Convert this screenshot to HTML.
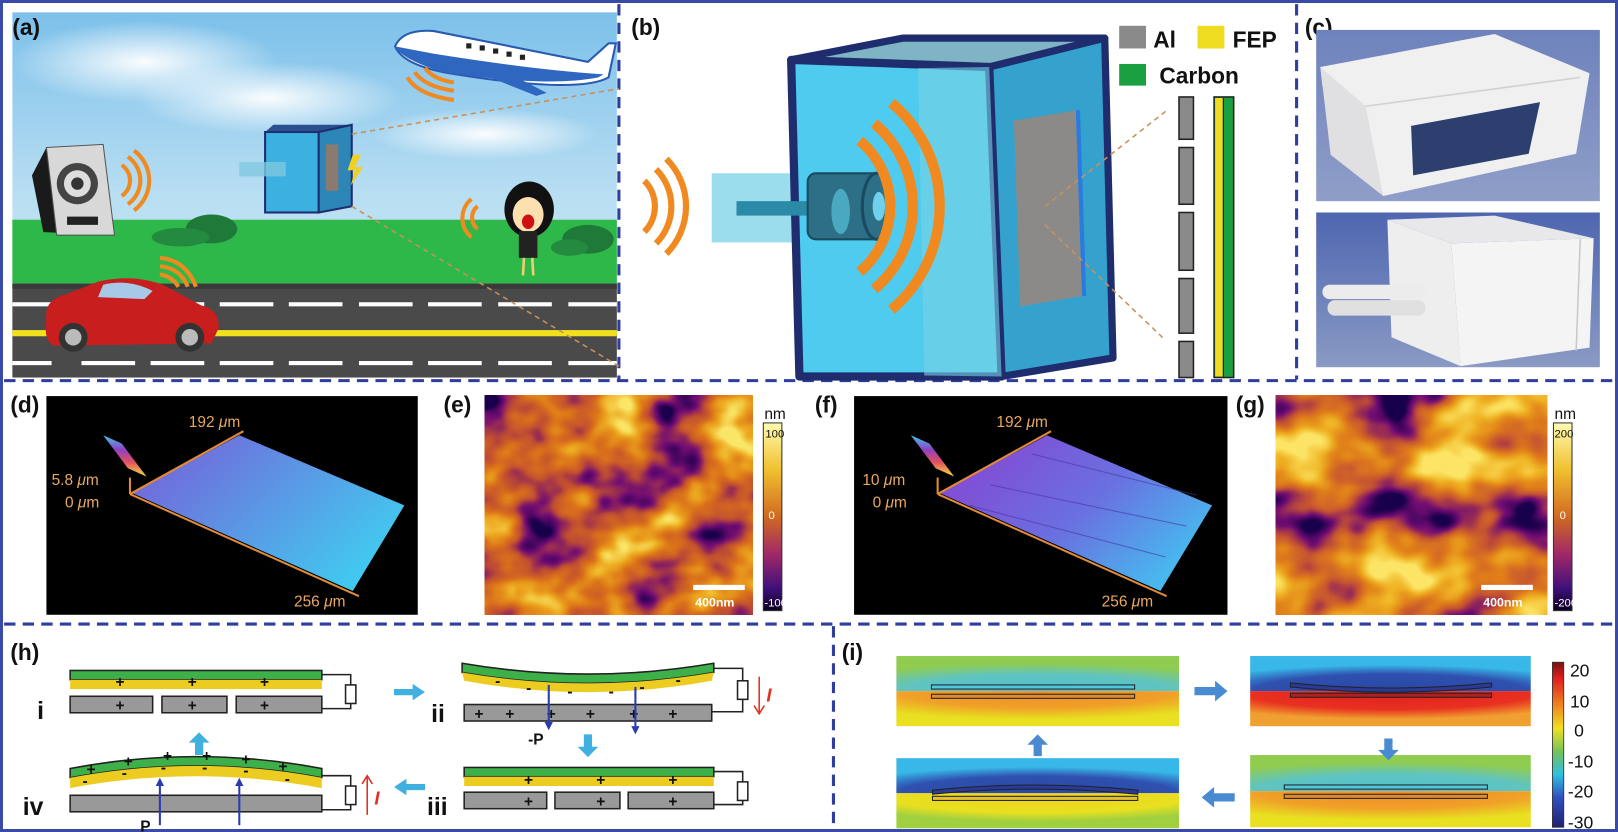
<!DOCTYPE html>
<html><head><meta charset="utf-8"><style>
html,body{margin:0;padding:0;background:#fff}
svg{display:block}
text{font-family:"Liberation Sans",sans-serif}
</style></head><body>
<svg width="1618" height="832" viewBox="0 0 1618 832" xmlns="http://www.w3.org/2000/svg">
<defs>
<linearGradient id="sky" x1="0" y1="0" x2="0" y2="1"><stop offset="0" stop-color="#7cc0ea"/><stop offset="0.5" stop-color="#b8def2"/><stop offset="1" stop-color="#d8eef8"/></linearGradient>
<radialGradient id="cloud" cx="0.5" cy="0.5" r="0.5"><stop offset="0" stop-color="#fff" stop-opacity="0.95"/><stop offset="1" stop-color="#fff" stop-opacity="0"/></radialGradient>
<linearGradient id="photo1" x1="0" y1="0" x2="0" y2="1"><stop offset="0" stop-color="#6e82bc"/><stop offset="1" stop-color="#8f9ec8"/></linearGradient>
<linearGradient id="photo2" x1="0" y1="0" x2="0" y2="1"><stop offset="0" stop-color="#4e66b0"/><stop offset="1" stop-color="#8a9ac4"/></linearGradient>
<linearGradient id="surfD" x1="0" y1="0" x2="1" y2="0.6"><stop offset="0" stop-color="#7a5ad8"/><stop offset="1" stop-color="#42c8ee"/></linearGradient>
<linearGradient id="surfF" x1="0" y1="0" x2="1" y2="0.6"><stop offset="0" stop-color="#8a40d0"/><stop offset="0.6" stop-color="#6a70e0"/><stop offset="1" stop-color="#48b8ee"/></linearGradient>
<linearGradient id="rainbow" x1="0" y1="0" x2="0" y2="1"><stop offset="0" stop-color="#40c8f0"/><stop offset="0.35" stop-color="#9040c0"/><stop offset="0.65" stop-color="#e05060"/><stop offset="1" stop-color="#f0e040"/></linearGradient>
<linearGradient id="afmbar" x1="0" y1="0" x2="0" y2="1"><stop offset="0" stop-color="#fffbb0"/><stop offset="0.25" stop-color="#f0c030"/><stop offset="0.5" stop-color="#d06a20"/><stop offset="0.7" stop-color="#a02868"/><stop offset="0.88" stop-color="#40107a"/><stop offset="1" stop-color="#0a0020"/></linearGradient>
<linearGradient id="jet" x1="0" y1="0" x2="0" y2="1"><stop offset="0" stop-color="#7a1010"/><stop offset="0.1" stop-color="#e02020"/><stop offset="0.27" stop-color="#f08a20"/><stop offset="0.4" stop-color="#f0e020"/><stop offset="0.55" stop-color="#70c060"/><stop offset="0.68" stop-color="#30c0e0"/><stop offset="0.82" stop-color="#3050c0"/><stop offset="1" stop-color="#202070"/></linearGradient>
<filter id="afmE" x="0" y="0" width="1" height="1" color-interpolation-filters="sRGB"><feTurbulence type="fractalNoise" baseFrequency="0.016 0.02" numOctaves="3" seed="7" result="n"/><feColorMatrix in="n" type="matrix" values="1.8 0 0 0 -0.4  1.8 0 0 0 -0.4  1.8 0 0 0 -0.4  0 0 0 0 1"/><feComponentTransfer><feFuncR type="table" tableValues="0.1 0.45 0.75 0.86 0.93 0.98"/><feFuncG type="table" tableValues="0 0.05 0.3 0.45 0.66 0.9"/><feFuncB type="table" tableValues="0.3 0.45 0.2 0.1 0.12 0.4"/></feComponentTransfer></filter>
<filter id="afmG" x="0" y="0" width="1" height="1" color-interpolation-filters="sRGB"><feTurbulence type="fractalNoise" baseFrequency="0.013 0.017" numOctaves="3" seed="11" result="n"/><feColorMatrix in="n" type="matrix" values="1.8 0 0 0 -0.35  1.8 0 0 0 -0.35  1.8 0 0 0 -0.35  0 0 0 0 1"/><feComponentTransfer><feFuncR type="table" tableValues="0.1 0.45 0.77 0.88 0.94 0.99"/><feFuncG type="table" tableValues="0 0.05 0.32 0.5 0.7 0.9"/><feFuncB type="table" tableValues="0.3 0.45 0.2 0.1 0.14 0.4"/></feComponentTransfer></filter>
<radialGradient id="topCy" cx="0.5" cy="1" r="0.8"><stop offset="0" stop-color="#50c0d0"/><stop offset="0.6" stop-color="#60c4c0"/><stop offset="1" stop-color="#90cc50"/></radialGradient>
<radialGradient id="botOr" cx="0.5" cy="0" r="0.8"><stop offset="0" stop-color="#f08a28"/><stop offset="0.6" stop-color="#f0a028"/><stop offset="1" stop-color="#e8e020"/></radialGradient>
<radialGradient id="topBl" cx="0.5" cy="1" r="0.75"><stop offset="0" stop-color="#2848a8"/><stop offset="0.65" stop-color="#3050b0"/><stop offset="1" stop-color="#38b8e8"/></radialGradient>
<radialGradient id="botRd" cx="0.5" cy="0" r="0.8"><stop offset="0" stop-color="#e02020"/><stop offset="0.65" stop-color="#e83020"/><stop offset="1" stop-color="#f0a030"/></radialGradient>
<radialGradient id="botYe" cx="0.5" cy="0" r="0.8"><stop offset="0" stop-color="#f0d020"/><stop offset="0.7" stop-color="#e8e020"/><stop offset="1" stop-color="#a0d040"/></radialGradient>
</defs>

<rect x="1.5" y="1.5" width="1615" height="829" fill="none" stroke="#3a4aa8" stroke-width="3"/>
<g transform="scale(1.0315)">
<g stroke="#2e3d9e" stroke-width="3" stroke-dasharray="11,7" fill="none">
<line x1="600" y1="4" x2="600" y2="368"/>
<line x1="1257" y1="4" x2="1257" y2="368"/>
<line x1="4" y1="369" x2="1565" y2="369"/>
<line x1="4" y1="605" x2="1565" y2="605"/>
<line x1="808" y1="607" x2="808" y2="804"/>
</g>

<!-- ===== (a) ===== -->
<rect x="12" y="12" width="586" height="354" fill="url(#sky)"/>
<ellipse cx="140" cy="60" rx="130" ry="40" fill="url(#cloud)"/>
<ellipse cx="260" cy="95" rx="130" ry="35" fill="url(#cloud)"/>
<ellipse cx="470" cy="130" rx="110" ry="25" fill="url(#cloud)"/>
<rect x="12" y="213" width="586" height="62" fill="#2fb84a"/>
<rect x="12" y="275" width="586" height="91" fill="#4a4a4a"/>
<rect x="12" y="275" width="586" height="5" fill="#3a3a3a"/>
<rect x="12" y="320" width="586" height="6" fill="#f0e020"/>
<g fill="#fff">
<rect x="12" y="293" width="38" height="4"/><rect x="79" y="293" width="52" height="4"/><rect x="146" y="293" width="52" height="4"/><rect x="213" y="293" width="52" height="4"/><rect x="280" y="293" width="52" height="4"/><rect x="348" y="293" width="52" height="4"/><rect x="415" y="293" width="52" height="4"/><rect x="483" y="293" width="52" height="4"/><rect x="551" y="293" width="47" height="4"/>
<rect x="12" y="350" width="38" height="4"/><rect x="79" y="350" width="52" height="4"/><rect x="146" y="350" width="52" height="4"/><rect x="213" y="350" width="52" height="4"/><rect x="280" y="350" width="52" height="4"/><rect x="348" y="350" width="52" height="4"/><rect x="415" y="350" width="52" height="4"/><rect x="483" y="350" width="52" height="4"/><rect x="551" y="350" width="47" height="4"/>
</g>
<ellipse cx="205" cy="222" rx="25" ry="14" fill="#1f7a3a"/><ellipse cx="175" cy="230" rx="28" ry="9" fill="#238a40"/>
<ellipse cx="570" cy="232" rx="25" ry="14" fill="#1f7a3a"/><ellipse cx="552" cy="240" rx="18" ry="8" fill="#238a40"/>
<polygon points="31,170 45,143 100,140 111,228 42,225" fill="#1a1a1a"/>
<polygon points="45,143 100,140 111,228 55,228" fill="#d8d8d8" stroke="#555" stroke-width="1"/>
<circle cx="75" cy="178" r="20" fill="#444"/><circle cx="75" cy="178" r="13" fill="#ddd"/><circle cx="75" cy="178" r="6" fill="#333"/>
<rect x="65" y="210" width="30" height="8" fill="#222"/>
<g fill="none" stroke="#f08a20" stroke-width="4"><path d="M118,160 A18,18 0 0 1 118,190"/><path d="M124,152 A28,28 0 0 1 124,198"/><path d="M130,146 A36,36 0 0 1 130,204"/></g>
<path d="M383,45 Q390,28 420,30 L570,60 L590,42 L597,42 L590,75 Q560,92 430,70 Q390,62 383,45Z" fill="#fff" stroke="#2a5ab0" stroke-width="2"/>
<path d="M383,45 Q390,58 430,70 Q530,85 580,75 L585,72 Q520,68 420,52Z" fill="#2e66c0"/>
<path d="M450,65 L520,93 L530,90 L480,64Z" fill="#2e66c0"/>
<g fill="#222"><rect x="452" y="42" width="5" height="5"/><rect x="465" y="44" width="5" height="5"/><rect x="478" y="47" width="5" height="5"/><rect x="491" y="50" width="5" height="5"/><rect x="504" y="53" width="5" height="5"/></g>
<g fill="none" stroke="#f08a20" stroke-width="4"><path d="M395,75 Q405,92 440,97"/><path d="M402,70 Q412,84 440,88"/><path d="M412,66 Q420,77 440,80"/></g>
<polygon points="257,128 265,121 341,121 332,128" fill="#2a5090"/>
<rect x="257" y="128" width="52" height="78" fill="#3cb0e0" stroke="#1f2d6e" stroke-width="2"/>
<polygon points="309,128 341,121 341,200 309,206" fill="#2c86b8" stroke="#1f2d6e" stroke-width="2"/>
<rect x="316" y="140" width="12" height="45" fill="#8a7a70"/>
<rect x="232" y="157" width="45" height="14" fill="#80c8e0" opacity="0.8"/>
<polygon points="342,150 350,150 344,162 352,162 340,180 344,165 337,165" fill="#f0d020"/>
<g stroke="#c8905a" stroke-width="1.5" stroke-dasharray="5,4"><line x1="341" y1="130" x2="600" y2="86"/><line x1="341" y1="200" x2="600" y2="355"/></g>
<g fill="none" stroke="#f08a20" stroke-width="4"><path d="M463,200 A14,14 0 0 0 463,222"/><path d="M457,193 A24,24 0 0 0 457,230"/></g>
<ellipse cx="513" cy="203" rx="24" ry="27" fill="#111"/>
<ellipse cx="512" cy="208" rx="15" ry="17" fill="#fde0b0"/>
<ellipse cx="512" cy="215" rx="6" ry="7" fill="#d01010"/>
<rect x="503" y="224" width="18" height="26" fill="#222"/>
<line x1="508" y1="250" x2="507" y2="267" stroke="#f0d070" stroke-width="2.5"/><line x1="516" y1="250" x2="517" y2="267" stroke="#f0d070" stroke-width="2.5"/>
<g fill="none" stroke="#f08a20" stroke-width="4"><path d="M155,250 Q180,252 190,278"/><path d="M155,258 Q175,260 182,278"/><path d="M155,266 Q167,268 173,278"/></g>
<path d="M45,310 Q42,290 65,285 L95,273 Q130,265 160,277 L195,296 Q213,300 212,318 L205,333 L52,335 Q42,330 45,310Z" fill="#c81e1e"/>
<path d="M100,276 Q125,270 148,282 L140,290 L95,288Z" fill="#a8c8e8"/>
<circle cx="71" cy="327" r="14" fill="#333"/><circle cx="71" cy="327" r="8" fill="#bbb"/>
<circle cx="184" cy="327" r="14" fill="#333"/><circle cx="184" cy="327" r="8" fill="#bbb"/>
<text x="12" y="34" font-size="22" font-weight="bold" fill="#111">(a)</text>

<!-- ===== (b) ===== -->
<text x="612" y="34" font-size="22" font-weight="bold" fill="#111">(b)</text>
<polygon points="767,58 875,37 1071,37 959,65" fill="#7fb4c4" stroke="#1f2d6e" stroke-width="7" stroke-linejoin="round"/>
<polygon points="959,65 1071,37 1079,347 971,365" fill="#34a2cc" stroke="#1f2d6e" stroke-width="7" stroke-linejoin="round"/>
<rect x="690" y="168" width="95" height="67" fill="#8ad6ea" opacity="0.85"/>
<polygon points="767,58 959,65 971,365 775,365" fill="#4ecbee" stroke="#1f2d6e" stroke-width="8" stroke-linejoin="round"/>
<polygon points="890,66 959,65 971,365 896,364" fill="#7ad2e6" opacity="0.6"/>
<rect x="714" y="195" width="70" height="14" fill="#2a8aa8"/>
<rect x="783" y="168" width="75" height="64" rx="8" fill="#2d6f86" stroke="#1a4a60" stroke-width="2"/>
<ellipse cx="850" cy="200" rx="14" ry="32" fill="#2d6f86" stroke="#1a4a60" stroke-width="3"/>
<ellipse cx="852" cy="200" rx="6" ry="14" fill="#6ed0ea"/>
<ellipse cx="815" cy="205" rx="9" ry="22" fill="#4aa8c0"/>
<polygon points="983,117 1043,107 1049,287 989,297" fill="#8c8a88"/>
<polygon points="1043,107 1047,107 1053,287 1049,287" fill="#2a7ae0"/>
<g fill="none" stroke="#f08a20" stroke-width="10"><path d="M833.4,136.4 A83,83 0 0 1 833.4,263.6"/><path d="M847.5,119.6 A105,105 0 0 1 847.5,280.4"/><path d="M864.2,99.7 A131,131 0 0 1 864.2,300.3"/></g>
<g fill="none" stroke="#f08a20" stroke-width="6"><path d="M624.7,175.3 A35,35 0 0 1 624.7,224.7"/><path d="M636,164 A51,51 0 0 1 636,236"/><path d="M646,154 A65,65 0 0 1 646,246"/></g>
<g stroke="#c8905a" stroke-width="1.5" stroke-dasharray="5,4"><line x1="1013" y1="200" x2="1130" y2="108"/><line x1="1013" y1="218" x2="1130" y2="330"/></g>
<rect x="1085" y="25" width="26" height="22" fill="#8a8a8a"/>
<text x="1118" y="46" font-size="22" font-weight="bold" fill="#111">Al</text>
<rect x="1161" y="25" width="26" height="22" fill="#eedc20"/>
<text x="1195" y="46" font-size="22" font-weight="bold" fill="#111">FEP</text>
<rect x="1085" y="62" width="26" height="21" fill="#1aa040"/>
<text x="1124" y="81" font-size="22" font-weight="bold" fill="#111">Carbon</text>
<g fill="#8a8a8a" stroke="#222" stroke-width="1.5">
<rect x="1143" y="94" width="14" height="41"/><rect x="1143" y="143" width="14" height="55"/><rect x="1143" y="206" width="14" height="56"/><rect x="1143" y="270" width="14" height="53"/><rect x="1143" y="331" width="14" height="35"/>
</g>
<rect x="1177" y="94" width="19" height="272" fill="#1aa040" stroke="#222" stroke-width="1.5"/>
<rect x="1178" y="95" width="8" height="270" fill="#eedc20"/>
<line x1="1186" y1="95" x2="1186" y2="365" stroke="#222" stroke-width="1.2"/>

<!-- ===== (c) ===== -->
<text x="1265" y="34" font-size="22" font-weight="bold" fill="#111">(c)</text>
<rect x="1276" y="29" width="275" height="166" fill="url(#photo1)"/>
<polygon points="1280,65 1449,33 1541,71 1528,149 1341,190 1282,83" fill="#f0f0f0"/>
<polygon points="1280,65 1324,103 1341,190 1290,150" fill="#e0e0e2"/>
<polyline points="1324,103 1532,75" fill="none" stroke="#d0d0d4" stroke-width="1.5"/>
<polygon points="1368,122 1493,99 1482,149 1370,170" fill="#2c3f6e"/>
<rect x="1276" y="206" width="275" height="150" fill="url(#photo2)"/>
<polygon points="1345,213 1449,209 1545,231 1407,236" fill="#e8e8ea"/>
<polygon points="1345,213 1407,236 1416,355 1349,327" fill="#eeeeef"/>
<polygon points="1407,236 1545,231 1541,337 1416,355" fill="#f4f4f4"/>
<line x1="1532" y1="232" x2="1528" y2="340" stroke="#c8c8cc" stroke-width="1.5"/>
<rect x="1282" y="276" width="100" height="14" rx="7" fill="#ececec"/>
<rect x="1287" y="291" width="95" height="15" rx="7" fill="#e0e0e0"/>

<!-- ===== (d) ===== -->
<text x="10" y="400" font-size="22" font-weight="bold" fill="#111">(d)</text>
<rect x="45" y="384" width="360" height="212" fill="#000"/>
<polygon points="128,478 232,422 392,490 342,573" fill="url(#surfD)"/>
<polygon points="100,422 118,430 142,462 124,454" fill="url(#rainbow)"/>
<g stroke="#e08a3a" stroke-width="2" fill="none"><line x1="126" y1="479" x2="236" y2="418"/><line x1="126" y1="479" x2="348" y2="578"/><line x1="126" y1="479" x2="126" y2="463"/></g>
<g font-size="15" fill="#e8a860" font-family="Liberation Serif,serif"><text x="183" y="414">192 <tspan font-style="italic">μ</tspan>m</text><text x="50" y="470">5.8 <tspan font-style="italic">μ</tspan>m</text><text x="63" y="492">0 <tspan font-style="italic">μ</tspan>m</text><text x="285" y="588">256 <tspan font-style="italic">μ</tspan>m</text></g>

<!-- ===== (e) ===== -->
<text x="430" y="400" font-size="22" font-weight="bold" fill="#111">(e)</text>
<rect x="470" y="383" width="260" height="213" filter="url(#afmE)"/>
<rect x="672" y="567" width="50" height="5" fill="#fff"/>
<text x="674" y="588" font-size="12" font-weight="bold" fill="#fff">400nm</text>
<text x="741" y="406" font-size="15" fill="#111">nm</text>
<rect x="740" y="410" width="18" height="182" fill="url(#afmbar)" stroke="#333" stroke-width="1"/>
<text x="742" y="424" font-size="11" fill="#111">100</text>
<text x="745" y="503" font-size="11" fill="#fff">0</text>
<text x="741" y="588" font-size="11" fill="#fff">-100</text>

<!-- ===== (f) ===== -->
<text x="790" y="400" font-size="22" font-weight="bold" fill="#111">(f)</text>
<rect x="828" y="384" width="362" height="212" fill="#000"/>
<polygon points="911,478 1015,422 1175,490 1125,573" fill="url(#surfF)"/>
<g stroke="#4a30a0" stroke-width="1" opacity="0.6"><line x1="960" y1="470" x2="1150" y2="510"/><line x1="940" y1="490" x2="1130" y2="540"/><line x1="1000" y1="440" x2="1160" y2="480"/></g>
<polygon points="883,422 901,430 925,462 907,454" fill="url(#rainbow)"/>
<g stroke="#e08a3a" stroke-width="2" fill="none"><line x1="909" y1="479" x2="1019" y2="418"/><line x1="909" y1="479" x2="1131" y2="578"/><line x1="909" y1="479" x2="909" y2="463"/></g>
<g font-size="15" fill="#e8a860" font-family="Liberation Serif,serif"><text x="966" y="414">192 <tspan font-style="italic">μ</tspan>m</text><text x="836" y="470">10 <tspan font-style="italic">μ</tspan>m</text><text x="846" y="492">0 <tspan font-style="italic">μ</tspan>m</text><text x="1068" y="588">256 <tspan font-style="italic">μ</tspan>m</text></g>

<!-- ===== (g) ===== -->
<text x="1198" y="400" font-size="22" font-weight="bold" fill="#111">(g)</text>
<rect x="1237" y="383" width="263" height="213" filter="url(#afmG)"/>
<rect x="1436" y="567" width="50" height="5" fill="#fff"/>
<text x="1438" y="588" font-size="12" font-weight="bold" fill="#fff">400nm</text>
<text x="1507" y="406" font-size="15" fill="#111">nm</text>
<rect x="1506" y="410" width="18" height="182" fill="url(#afmbar)" stroke="#333" stroke-width="1"/>
<text x="1507" y="424" font-size="11" fill="#111">200</text>
<text x="1512" y="503" font-size="11" fill="#fff">0</text>
<text x="1507" y="588" font-size="11" fill="#fff">-200</text>

<!-- ===== (h) ===== -->
<text x="10" y="640" font-size="22" font-weight="bold" fill="#111">(h)</text>
<g stroke="#222" stroke-width="1.5">
<rect x="68" y="650" width="244" height="9" fill="#3db04a"/>
<rect x="68" y="659" width="244" height="9" fill="#eccc20" stroke="none"/>
<rect x="68" y="675" width="80" height="16" fill="#999"/><rect x="157" y="675" width="63" height="16" fill="#999"/><rect x="229" y="675" width="83" height="16" fill="#999"/>
<polyline points="312,654 340,654 340,664" fill="none"/><rect x="335" y="664" width="10" height="18" fill="#fff"/><polyline points="340,682 340,687 312,687" fill="none"/>
<path d="M448,643 Q570,664 692,643 L692,652 Q570,673 448,652Z" fill="#3db04a"/>
<path d="M448,652 Q570,673 692,652 L690,660 Q570,682 450,660Z" fill="#eccc20" stroke="none"/>
<rect x="450" y="683" width="240" height="16" fill="#999"/>
<polyline points="692,648 720,648 720,660" fill="none"/><rect x="715" y="660" width="10" height="18" fill="#fff"/><polyline points="720,678 720,690 690,690" fill="none"/>
<rect x="450" y="744" width="242" height="9" fill="#3db04a"/>
<rect x="450" y="753" width="242" height="9" fill="#eccc20" stroke="none"/>
<rect x="450" y="768" width="80" height="16" fill="#999"/><rect x="538" y="768" width="63" height="16" fill="#999"/><rect x="609" y="768" width="83" height="16" fill="#999"/>
<polyline points="692,748 720,748 720,758" fill="none"/><rect x="715" y="758" width="10" height="18" fill="#fff"/><polyline points="720,776 720,780 692,780" fill="none"/>
<path d="M68,745 Q190,722 312,745 L312,754 Q190,731 68,754Z" fill="#3db04a"/>
<path d="M68,754 Q190,731 312,754 L312,764 Q190,741 68,764Z" fill="#eccc20" stroke="none"/>
<rect x="68" y="771" width="244" height="16" fill="#999"/>
<polyline points="312,752 340,752 340,762" fill="none"/><rect x="335" y="762" width="10" height="18" fill="#fff"/><polyline points="340,780 340,785 312,785" fill="none"/>
</g>
<g font-size="15" font-weight="bold" fill="#111">
<text x="112" y="666">+</text><text x="182" y="666">+</text><text x="252" y="666">+</text>
<text x="112" y="689">+</text><text x="182" y="689">+</text><text x="252" y="689">+</text>
<text x="508" y="761">+</text><text x="578" y="761">+</text><text x="648" y="761">+</text>
<text x="508" y="782">+</text><text x="578" y="782">+</text><text x="648" y="782">+</text>
<text x="460" y="697">+</text><text x="490" y="697">+</text><text x="530" y="697">+</text><text x="568" y="697">+</text><text x="610" y="697">+</text><text x="648" y="697">+</text>
<text x="480" y="665">-</text><text x="510" y="672">-</text><text x="550" y="675">-</text><text x="590" y="675">-</text><text x="620" y="671">-</text><text x="655" y="664">-</text>
<text x="84" y="751">+</text><text x="120" y="743">+</text><text x="158" y="738">+</text><text x="196" y="738">+</text><text x="234" y="741">+</text><text x="270" y="748">+</text>
<text x="80" y="762">-</text><text x="118" y="754">-</text><text x="156" y="749">-</text><text x="196" y="749">-</text><text x="236" y="752">-</text><text x="276" y="760">-</text>
</g>
<g font-size="24" font-weight="bold" fill="#111"><text x="36" y="697">i</text><text x="418" y="700">ii</text><text x="414" y="790">iii</text><text x="22" y="790">iv</text></g>
<g stroke="#2a3ab0" stroke-width="2"><line x1="532" y1="664" x2="532" y2="700"/><line x1="616" y1="666" x2="616" y2="704"/><line x1="155" y1="800" x2="155" y2="762"/><line x1="232" y1="800" x2="232" y2="762"/></g>
<g fill="#2a3ab0"><polygon points="528,700 536,700 532,708"/><polygon points="612,704 620,704 616,712"/><polygon points="151,762 159,762 155,754"/><polygon points="228,762 236,762 232,754"/></g>
<text x="512" y="722" font-size="15" font-weight="bold" fill="#111">-P</text>
<text x="136" y="806" font-size="15" font-weight="bold" fill="#111">P</text>
<g stroke="#e03020" stroke-width="1.5"><line x1="736" y1="656" x2="736" y2="692"/><line x1="356" y1="790" x2="356" y2="752"/></g>
<g fill="none" stroke="#e03020" stroke-width="1.5"><polyline points="731,684 736,692 741,684"/><polyline points="351,760 356,752 361,760"/></g>
<g font-size="18" font-style="italic" font-weight="bold" fill="#e03020" font-family="Liberation Serif,serif"><text x="743" y="680">I</text><text x="363" y="780">I</text></g>
<g fill="#40b0e0">
<polygon points="382,668 400,668 400,663 412,671 400,679 400,674 382,674"/>
<polygon points="412,760 394,760 394,755 382,763 394,771 394,766 412,766"/>
<polygon points="566,712 574,712 574,724 580,724 570,734 560,724 566,724"/>
<polygon points="189,732 197,732 197,720 203,720 193,710 183,720 189,720"/>
</g>

<!-- ===== (i) ===== -->
<text x="816" y="640" font-size="22" font-weight="bold" fill="#111">(i)</text>
<rect x="869" y="636" width="274" height="34" fill="url(#topCy)"/><rect x="869" y="670" width="274" height="34" fill="url(#botOr)"/>
<rect x="903" y="664" width="197" height="4" fill="#50c8e0" stroke="#222" stroke-width="1"/>
<rect x="903" y="673" width="197" height="4" fill="#e08a30" stroke="#222" stroke-width="1"/>
<rect x="1212" y="636" width="272" height="34" fill="url(#topBl)"/><rect x="1212" y="670" width="272" height="34" fill="url(#botRd)"/>
<path d="M1251,662 Q1348,672 1446,662 L1446,666 Q1348,676 1251,666Z" fill="#2a3a98" stroke="#222" stroke-width="1"/>
<rect x="1251" y="672" width="195" height="4" fill="#b02020" stroke="#222" stroke-width="1"/>
<rect x="869" y="735" width="274" height="34" fill="url(#topBl)"/><rect x="869" y="769" width="274" height="34" fill="url(#botYe)"/>
<path d="M904,766 Q1000,756 1103,766 L1103,770 Q1000,760 904,770Z" fill="#2a3a98" stroke="#222" stroke-width="1"/>
<rect x="904" y="772" width="199" height="4" fill="#e0c030" stroke="#222" stroke-width="1"/>
<rect x="1212" y="732" width="272" height="35" fill="url(#topCy)"/><rect x="1212" y="767" width="272" height="35" fill="url(#botOr)"/>
<rect x="1245" y="761" width="197" height="4" fill="#50c8e0" stroke="#222" stroke-width="1"/>
<rect x="1245" y="770" width="197" height="4" fill="#e08a30" stroke="#222" stroke-width="1"/>
<g fill="#4a8ad0">
<polygon points="1158,666 1178,666 1178,660 1190,670 1178,680 1178,674 1158,674"/>
<polygon points="1197,769 1177,769 1177,763 1165,773 1177,783 1177,777 1197,777"/>
<polygon points="1342,716 1350,716 1350,727 1356,727 1346,737 1336,727 1342,727"/>
<polygon points="1002,733 1010,733 1010,722 1016,722 1006,712 996,722 1002,722"/>
</g>
<rect x="1505" y="642" width="11" height="160" fill="url(#jet)" stroke="#333" stroke-width="0.8"/>
<g font-size="17" fill="#111"><text x="1522" y="656">20</text><text x="1522" y="686">10</text><text x="1526" y="714">0</text><text x="1520" y="744">-10</text><text x="1520" y="773">-20</text><text x="1520" y="803">-30</text></g>
</g>
</svg>
</body></html>
